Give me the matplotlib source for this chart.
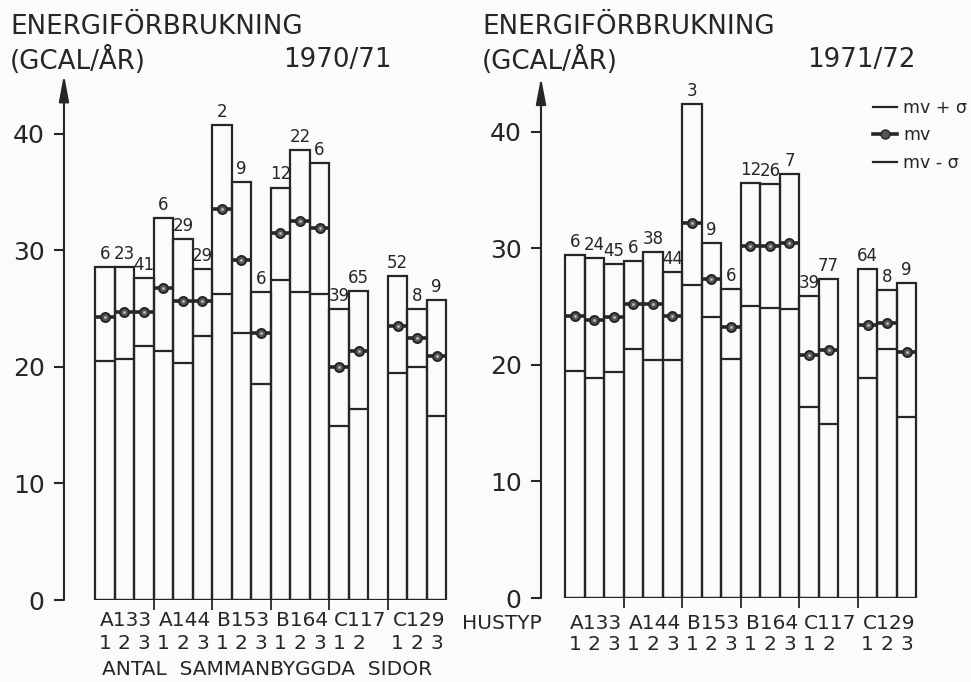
import matplotlib
matplotlib.use("Agg")
import matplotlib.pyplot as plt
from matplotlib.lines import Line2D

plt.rcParams['font.family'] = ['DejaVu Sans']

INK = "#262626"
BG = "#fbfbf9"

# house types and number of variants (antal sammanbyggda sidor)
groups = ["A133", "A144", "B153", "B164", "C117", "C129"]
variants = [[1, 2, 3], [1, 2, 3], [1, 2, 3], [1, 2, 3], [1, 2], [1, 2, 3]]

# 1970/71: mv + sigma, mv, mv - sigma, number of houses
hi_7071 = [28.6, 28.6, 27.6, 32.8, 31.0, 28.4, 40.8, 35.9, 26.4,
           35.4, 38.6, 37.5, 25.0, 26.5, 27.8, 24.95, 25.75]
mv_7071 = [24.3, 24.7, 24.7, 26.8, 25.7, 25.7, 33.6, 29.2, 22.9,
           31.5, 32.5, 31.9, 20.0, 21.4, 23.5, 22.5, 20.9]
lo_7071 = [20.5, 20.7, 21.8, 21.4, 20.3, 22.7, 26.3, 22.9, 18.5,
           27.5, 26.4, 26.3, 14.9, 16.4, 19.5, 20.0, 15.8]
n_7071 = [6, 23, 41, 6, 29, 29, 2, 9, 6, 12, 22, 6, 39, 65, 52, 8, 9]

# 1971/72
hi_7172 = [29.4, 29.2, 28.7, 28.9, 29.7, 28.0, 42.4, 30.5, 26.5,
           35.6, 35.5, 36.4, 25.9, 27.4, 28.2, 26.4, 27.0]
mv_7172 = [24.2, 23.9, 24.1, 25.2, 25.2, 24.2, 32.2, 27.4, 23.3,
           30.2, 30.2, 30.5, 20.9, 21.3, 23.4, 23.6, 21.1]
lo_7172 = [19.5, 18.9, 19.4, 21.4, 20.4, 20.4, 26.9, 24.1, 20.5,
           25.1, 24.9, 24.8, 16.4, 14.9, 18.9, 21.4, 15.5]
n_7172 = [6, 24, 45, 6, 38, 44, 3, 9, 6, 12, 26, 7, 39, 77, 64, 8, 9]

yticks = [0, 10, 20, 30, 40]


def bar_positions():
    """Left edges of the bars, one empty slot before the last house type."""
    xs, starts = [], []
    x = 0
    for i, v in enumerate(variants):
        if groups[i] == "C129":
            x += 1
        starts.append(x)
        for _ in v:
            xs.append(x)
            x += 1
    return xs, starts, x


def draw_panel(ax, hi, mv, lo, n, axis_x, ytop, row1_y, row2_y):
    xs, starts, xend = bar_positions()
    ax.set_facecolor("none")

    ax.bar(xs, hi, width=1, align="edge", fill=False,
           edgecolor=INK, linewidth=1.6)
    for x, m, l, c, h in zip(xs, mv, lo, n, hi):
        ax.hlines(l, x, x + 1, color=INK, linewidth=1.6)
        ax.hlines(m, x, x + 1, color=INK, linewidth=2.6)
        ax.plot(x + 0.5, m, "o", ms=6.5, mfc="#555555", mec=INK, mew=1.4)
        ax.plot(x + 0.5, m, "o", ms=2, mfc="#bdbdbd", mec="none")
        ax.text(x + 0.5, h + 0.35, str(c), ha="center", va="bottom",
                fontsize=12, color=INK)

    # base line and group separators
    ax.hlines(0, 0, xend, color=INK, linewidth=1.6)
    seps = starts[1:]
    ax.vlines(seps, -0.85, 0, color=INK, linewidth=1.3, clip_on=False)

    # labels under the bars
    for g, s in zip(groups, starts):
        ax.text(s + 0.25, row1_y, g, ha="left", va="center",
                fontsize=14.5, color=INK)
    i = 0
    for v in variants:
        for k in v:
            ax.text(xs[i] + 0.5, row2_y, str(k), ha="center", va="center",
                    fontsize=14.5, color=INK)
            i += 1

    # y axis with arrow
    ax.annotate("", xy=(axis_x, ytop), xytext=(axis_x, 0),
                arrowprops=dict(arrowstyle="-|>,head_length=1.6,head_width=0.3",
                                color=INK, lw=1.5, shrinkA=0, shrinkB=0))
    for sp in ["top", "right", "bottom"]:
        ax.spines[sp].set_visible(False)
    ax.spines["left"].set_position(("data", axis_x))
    ax.spines["left"].set_color("none")
    ax.set_yticks(yticks)
    ax.tick_params(axis="y", direction="out", length=7, width=1.5,
                   color=INK, labelcolor=INK, labelsize=18, pad=7)
    ax.set_xticks([])


W, H = 971, 682
fig = plt.figure(figsize=(W / 100, H / 100), dpi=100, facecolor=BG)


def add_px_axes(x0, x1, ytop_px, ybot_px):
    return fig.add_axes([x0 / W, (H - ybot_px) / H, (x1 - x0) / W,
                         (ybot_px - ytop_px) / H])


# left panel: 1970/71
ax1 = add_px_axes(0, 480, 70, 600)
ax1.set_xlim(-4.867, 19.72)
ax1.set_ylim(0, 45.49)
draw_panel(ax1, hi_7071, mv_7071, lo_7071, n_7071, axis_x=-1.59, ytop=45.1,
           row1_y=-1.75, row2_y=-3.75)
ax1.text(0.35, -5.95, "ANTAL  SAMMANBYGGDA  SIDOR", ha="left", va="center",
         fontsize=14.5, color=INK)

# right panel: 1971/72
ax2 = add_px_axes(480, 971, 70, 598)
ax2.set_xlim(-4.355, 20.80)
ax2.set_ylim(0, 45.32)
draw_panel(ax2, hi_7172, mv_7172, lo_7172, n_7172, axis_x=-1.23, ytop=44.7,
           row1_y=-2.2, row2_y=-3.95)
ax2.text(-5.3, -2.2, "HUSTYP", ha="left", va="center", fontsize=14.5,
         color=INK)

handles = [Line2D([], [], color=INK, lw=1.6),
           Line2D([], [], color=INK, lw=2.6, marker="o", ms=6.5,
                  mfc="#555555", mec=INK),
           Line2D([], [], color=INK, lw=1.6)]
ax2.legend(handles, ["mv + σ", "mv", "mv - σ"], loc="upper left",
           bbox_to_anchor=(384 / 491, 1 - 20 / 528), frameon=False,
           fontsize=12.5, handlelength=1.4, handletextpad=0.35,
           labelspacing=0.55, labelcolor=INK, borderpad=0)

# headings
for x0, period in [(10, "1970/71"), (482, "1971/72")]:
    fig.text(x0 / W, 1 - 27 / H, "ENERGIFÖRBRUKNING", fontsize=18.8,
             ha="left", va="center", color=INK)
    fig.text(x0 / W, 1 - 60 / H, "(GCAL/ÅR)", fontsize=18.8,
             ha="left", va="center", color=INK)
    fig.text((x0 + (273 if x0 == 10 else 325)) / W, 1 - 60 / H, period,
             fontsize=18.8, ha="left", va="center", color=INK)

fig.savefig("out.png", dpi=100, facecolor=BG)
